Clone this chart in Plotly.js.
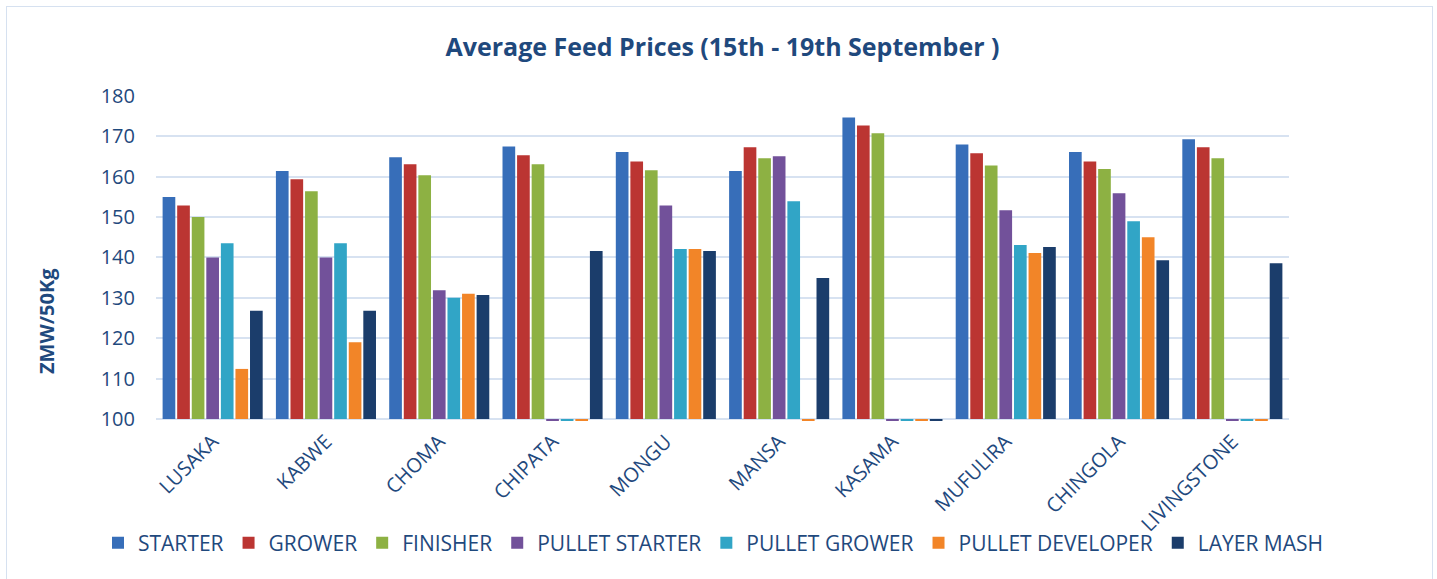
<!DOCTYPE html>
<html>
<head>
<meta charset="utf-8">
<script src="https://cdn.plot.ly/plotly-3.0.1.min.js"></script>
<style>
  html, body { margin: 0; padding: 0; background: #ffffff; }
  #chart { position: absolute; left: 0; top: 0; width: 1437px; height: 579px; }
  #frame { position: absolute; left: 6px; top: 6px; width: 1427px; height: 580px;
           border: 1.5px solid #D6E1F0; pointer-events: none; box-sizing: border-box; }
</style>
</head>
<body>
<div id="chart"></div>
<div id="frame"></div>
<script>
const categories = ["LUSAKA", "KABWE", "CHOMA", "CHIPATA", "MONGU", "MANSA", "KASAMA", "MUFULIRA", "CHINGOLA", "LIVINGSTONE"];

const starter         = [155.0, 161.4, 164.8, 167.5, 166.1, 161.4, 174.7, 168.0, 166.1, 169.3];
const grower          = [152.9, 159.4, 163.1, 165.3, 163.8, 167.3, 172.7, 165.8, 163.8, 167.3];
const finisher        = [150.0, 156.4, 160.4, 163.1, 161.6, 164.6, 170.8, 162.8, 161.9, 164.6];
const pulletStarter   = [140.0, 140.0, 131.9, 0, 152.9, 165.1, 0, 151.7, 155.9, 0];
const pulletGrower    = [143.5, 143.5, 130.0, 0, 142.1, 153.9, 0, 143.1, 149.0, 0];
const pulletDeveloper = [112.4, 119.0, 131.0, 0, 142.1, 0, 0, 141.1, 145.0, 0];
const layerMash       = [126.8, 126.8, 130.7, 141.6, 141.6, 134.9, 0, 142.6, 139.3, 138.6];

const seriesNames = ["STARTER", "GROWER", "FINISHER", "PULLET STARTER", "PULLET GROWER", "PULLET DEVELOPER", "LAYER MASH"];
const seriesValues = [starter, grower, finisher, pulletStarter, pulletGrower, pulletDeveloper, layerMash];
const seriesColors = ["#376EB9", "#BB3532", "#8DB143", "#72519A", "#31A5C6", "#F28528", "#1B3D6B"];

const axisBase = 100; // value axis crosses at 100, bars grow from there (as in the original)
const textColor = "#1F497D";
const font = "'Open Sans', 'Liberation Sans', sans-serif";

const traces = seriesNames.map((name, i) => ({
  type: "bar",
  name: name,
  x: categories,
  y: seriesValues[i].map(v => v - axisBase),
  base: axisBase,
  customdata: seriesValues[i],
  hovertemplate: "%{x}<br>" + name + ": %{customdata}<extra></extra>",
  marker: { color: seriesColors[i], line: { width: 0 } }
}));

const layout = {
  width: 1437,
  height: 579,
  paper_bgcolor: "#ffffff",
  plot_bgcolor: "#ffffff",
  margin: { l: 156, r: 148, t: 96, b: 158 },
  barmode: "group",
  bargap: 0.1,
  bargroupgap: 0.13,
  showlegend: true,
  title: {
    text: "<b>Average Feed Prices (15th - 19th September )</b>",
    x: 0.5, xanchor: "center", xref: "paper",
    y: 1 - 47 / 579, yanchor: "middle", yref: "container",
    font: { family: font, size: 25, color: textColor }
  },
  xaxis: {
    type: "category",
    tickangle: -45,
    tickfont: { family: font, size: 20, color: textColor },
    showgrid: false,
    showline: false,
    zeroline: false,
    ticks: "",
    ticklabelstandoff: 4
  },
  yaxis: {
    range: [99.5, 180],
    tickvals: [100, 110, 120, 130, 140, 150, 160, 170, 180],
    tickfont: { family: font, size: 20, color: textColor },
    showgrid: true,
    gridcolor: "#D7E2F1",
    gridwidth: 2,
    zeroline: false,
    showline: false,
    ticks: "",
    ticklabelstandoff: 20
  },
  legend: {
    orientation: "h",
    x: (98 - 156) / 1133, xanchor: "left", xref: "paper",
    y: (421 - 543) / 325, yanchor: "middle", yref: "paper",
    bgcolor: "rgba(0,0,0,0)",
    font: { family: font, size: 21, color: textColor },
    itemclick: false, itemdoubleclick: false,
    traceorder: "normal",
    itemwidth: 30
  },
  annotations: [{
    text: "<b>ZMW/50Kg</b>",
    xref: "paper", yref: "paper",
    x: (46 - 156) / 1133, y: (421 - 321) / 325,
    xanchor: "center", yanchor: "middle",
    textangle: -90,
    showarrow: false,
    font: { family: font, size: 20, color: textColor }
  }]
};

Plotly.newPlot("chart", traces, layout, { displayModeBar: false, staticPlot: true });
</script>
</body>
</html>
